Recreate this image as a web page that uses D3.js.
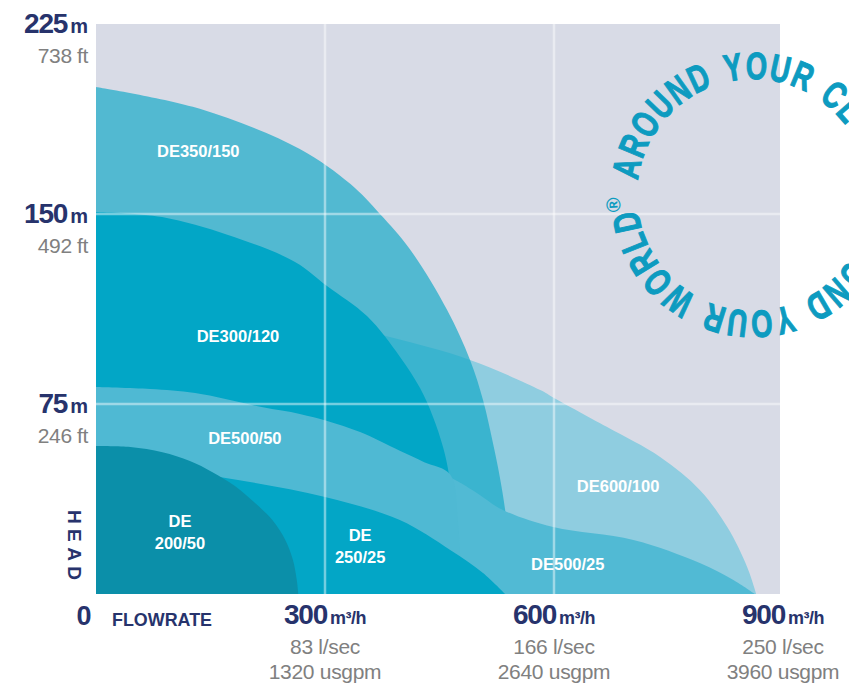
<!DOCTYPE html>
<html><head><meta charset="utf-8">
<script src="https://cdn.jsdelivr.net/npm/d3@7"></script>
<style>body{margin:0;background:#fff} svg{display:block}</style>
</head><body><svg id="c" width="849" height="689"></svg>
<script>
// ---- data (flow m3/h, head m) ----
const flowTicks = [300, 600, 900];
const flowUnit = "m³/h";
const flowLps = ["83 l/sec", "166 l/sec", "250 l/sec"];
const flowGpm = ["1320 usgpm", "2640 usgpm", "3960 usgpm"];
const headTicks = [75, 150, 225];
const headFt = ["246 ft", "492 ft", "738 ft"];

const DE600_100 = [[0,118],[150,115.5],[300,107.5],[385,101.4],[490,92.4],[582,80.5],[600,77.4],[669,66],[739,54.1],[791,41.1],[827,26.4],[853,10.7],[865,0]];
const DE350_150 = [[0,200.1],[136,191.5],[267,175.7],[333,161.9],[372,150],[411,136.2],[460,112.1],[490,92.4],[507,76.6],[520,59.6],[529,46.2],[536,33.2],[542,17.4],[545,0]];
const DE300_120 = [[0,150.8],[86.5,148.8],[173,141.7],[260.7,131.1],[302.6,121.6],[355,109.7],[398.3,93.6],[424.5,81.3],[441.5,69.9],[454.6,58],[462.5,47],[469,29.2],[473,0]];
const DE500_25 = [[0,74],[136,72],[267,67],[346,60],[398,53],[464,46],[497,40.3],[533,33.2],[599,26.4],[704,21.3],[791,12.2],[835,5.5],[863,0]];
const DE500_50 = [[0,81.7],[71,80.9],[130,79.3],[217,73.8],[267,71.1],[303,68.3],[346,63.9],[398,56.5],[430,52],[464,47.2],[474,29.2],[479,0]];
const DE250_25 = [[0,51],[84,49],[186,45],[300,38.3],[398,29.2],[464,17.4],[507,8.3],[536,0]];
const DE200_50 = [[0,58.4],[45,58],[87,56],[123,52.5],[152,48.2],[182,42.6],[208,36],[231,29.2],[248,21.3],[258,13.4],[263,5.5],[265,0]];

const seriesNames = ["DE600/100","DE350/150","DE300/120","DE500/25","DE500/50","DE250/25","DE200/50"];
const seriesData = [DE600_100, DE350_150, DE300_120, DE500_25, DE500_50, DE250_25, DE200_50];
const ringText = "AROUND YOUR CLOCK AROUND YOUR WORLD";
const ringMark = "®";

// ---- styles / layout ----
const fills = ["#8fcde0","rgba(17,168,199,0.68)","#02a6c6","#51bad4","#4fb9d3","#03a6c6","#0b8fa9"];
const labelAt = {
  "DE600/100": [[684,42.6]],
  "DE350/150": [[134,175]],
  "DE300/120": [[186,101.8]],
  "DE500/25": [[618,11.8]],
  "DE500/50": [[195,61.6]],
  "DE250/25": [[346,23.3,"DE"],[346,14.6,"250/25"]],
  "DE200/50": [[110,28.8,"DE"],[110,20.1,"200/50"]]
};

const svg = d3.select("#c");
const x = d3.scaleLinear().domain([0,900]).range([96,783]);
const y = d3.scaleLinear().domain([0,225]).range([594,24]);
const navy = "#27336c", grey = "#808080";
const font = "'Liberation Sans', Arial, sans-serif";

svg.append("rect").attr("x", x(0)).attr("y", y(225))
  .attr("width", x(900) - 3 - x(0)).attr("height", y(0) - y(225))
  .attr("fill", "#d8dbe6");

const area = d3.area().x(d => x(d[0])).y0(y(0)).y1(d => y(d[1])).curve(d3.curveCatmullRom.alpha(0.5));
svg.append("g").selectAll("path").data(seriesData).join("path")
  .attr("d", area).attr("fill", (d,i) => fills[i]);

const grid = svg.append("g").attr("stroke", "#fff").attr("stroke-opacity", 0.45).attr("stroke-width", 2.5);
flowTicks.filter(v => v < 900).forEach(v => grid.append("line")
  .attr("x1", x(v)).attr("x2", x(v)).attr("y1", y(225)).attr("y2", y(0)));
headTicks.filter(v => v < 225).forEach(v => grid.append("line")
  .attr("x1", x(0)).attr("x2", x(900) - 3).attr("y1", y(v)).attr("y2", y(v)));

seriesNames.forEach(name => {
  labelAt[name].forEach(l => {
    svg.append("text").attr("x", x(l[0])).attr("y", y(l[1]))
      .attr("text-anchor", "middle").attr("dominant-baseline", "central")
      .attr("fill", "#fff").attr("font-family", font).attr("font-size", 16.5)
      .attr("font-weight", "bold").text(l[2] || name);
  });
});

// head axis labels
headTicks.forEach((v,i) => {
  const t = svg.append("text").attr("x", 88).attr("y", y(v) + 9)
    .attr("text-anchor", "end").attr("fill", navy).attr("font-family", font).attr("font-weight", "bold");
  t.append("tspan").attr("font-size", 28).attr("letter-spacing", -1.2).text(v);
  t.append("tspan").attr("font-size", 20).attr("dx", 3).text("m");
  svg.append("text").attr("x", 88).attr("y", y(v) + 39).attr("text-anchor", "end")
    .attr("fill", grey).attr("font-family", font).attr("font-size", 21).attr("letter-spacing", -0.4).text(headFt[i]);
});
svg.append("text").attr("x", 84).attr("y", y(0) + 31).attr("text-anchor", "middle")
  .attr("fill", navy).attr("font-family", font).attr("font-weight", "bold").attr("font-size", 27).text("0");
svg.append("text").attr("x", 112).attr("y", y(0) + 32).attr("fill", navy)
  .attr("font-family", font).attr("font-weight", "bold").attr("font-size", 18)
  .attr("textLength", 100).attr("lengthAdjust", "spacingAndGlyphs").text("FLOWRATE");
svg.append("text").attr("transform", "translate(68,510) rotate(90)").attr("fill", navy)
  .attr("font-family", font).attr("font-weight", "bold").attr("font-size", 19)
  .attr("textLength", 70).attr("lengthAdjust", "spacing").text("HEAD");

// flow axis labels
flowTicks.forEach((v,i) => {
  const t = svg.append("text").attr("x", x(v)).attr("y", y(0) + 30)
    .attr("text-anchor", "middle").attr("fill", navy).attr("font-family", font).attr("font-weight", "bold");
  t.append("tspan").attr("font-size", 28).attr("letter-spacing", -1.2).text(v);
  t.append("tspan").attr("font-size", 18).attr("dx", 3).attr("letter-spacing", -0.5).text(flowUnit);
  svg.append("text").attr("x", x(v)).attr("y", y(0) + 60).attr("text-anchor", "middle")
    .attr("fill", grey).attr("font-family", font).attr("font-size", 21).attr("letter-spacing", -0.3).text(flowLps[i]);
  svg.append("text").attr("x", x(v)).attr("y", y(0) + 85).attr("text-anchor", "middle")
    .attr("fill", grey).attr("font-family", font).attr("font-size", 21).attr("letter-spacing", -0.3).text(flowGpm[i]);
});

// ring text: condensed glyphs laid clockwise round a circle
const cx = 753, cy = 195, r = 116, fs = 38, squeeze = 0.72;
const startDeg = 12, endDeg = 356;
const ringColor = "#0d9bc0";
const ring = svg.append("g").attr("fill", ringColor).attr("stroke", ringColor)
  .attr("font-family", font).attr("font-weight", "bold");
const chars = ringText.split("").map(c => ({c, size: fs})).concat([{c: ringMark, size: 20, lift: 17}]);
const probe = svg.append("text").attr("font-family", font).attr("font-weight", "bold").style("white-space", "pre");
chars.forEach(ch => {
  probe.attr("font-size", ch.size).text(ch.c === " " ? "a a" : ch.c);
  let w = probe.node().getComputedTextLength();
  if (ch.c === " ") { probe.text("aa"); w = w - probe.node().getComputedTextLength(); }
  ch.w = w * (ch.c === " " ? 1 : squeeze);
});
probe.remove();
const s0 = r * startDeg * Math.PI / 180, s1 = r * endDeg * Math.PI / 180;
const inner = d3.sum(chars, d => d.w) - chars[0].w / 2 - chars[chars.length - 1].w / 2;
const gap = (s1 - s0 - inner) / (chars.length - 1);
let s = s0 - chars[0].w / 2;
chars.forEach(ch => {
  const mid = s + ch.w / 2;
  s += ch.w + gap;
  if (ch.c === " ") return;
  const th = mid / r;
  const px = cx - r * Math.cos(th), py = cy - r * Math.sin(th);
  const rot = th * 180 / Math.PI - 90;
  const mark = ch.c === ringMark;
  ring.append("text")
    .attr("transform", `translate(${px.toFixed(2)},${py.toFixed(2)}) rotate(${rot.toFixed(2)}) scale(${mark ? 1 : squeeze},1)`)
    .attr("y", ch.lift ? -ch.lift : 0)
    .attr("stroke-width", mark ? 0 : 1.1)
    .attr("text-anchor", "middle").attr("font-size", ch.size).text(ch.c);
});
</script></body></html>
